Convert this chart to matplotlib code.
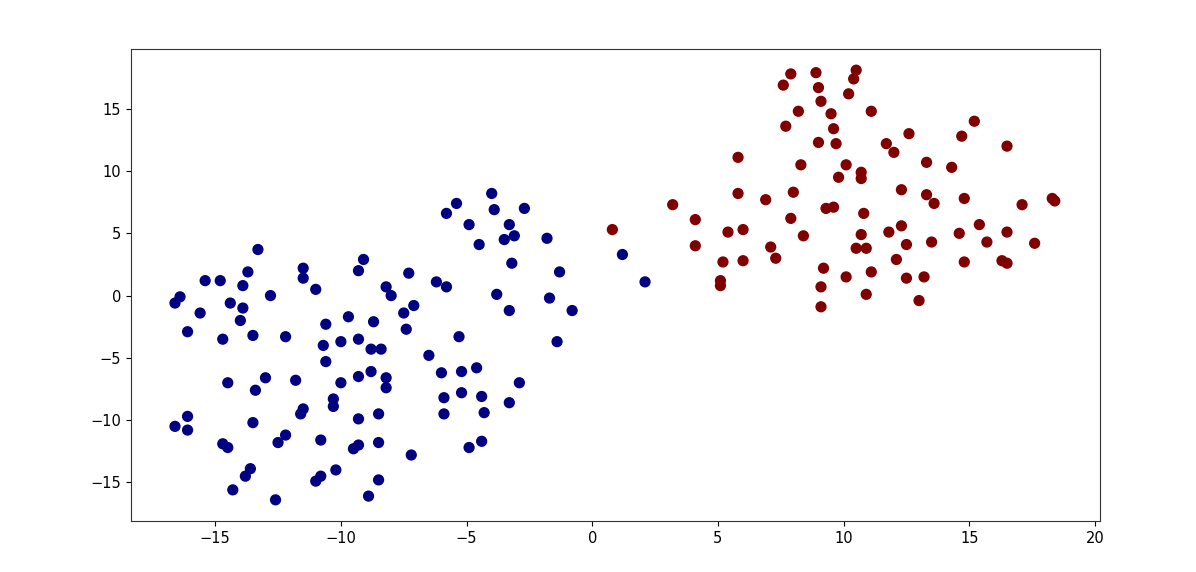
import numpy as np
import matplotlib
matplotlib.use('Agg')
import matplotlib.pyplot as plt

# cluster 0 (azul)
xs_azul = [-16.6, -16.4, -16.1, -15.6, -15.4, -14.8, -14.4, -14.7, -14.0, -13.9,
           -13.9, -13.7, -13.3, -13.5, -12.8, -11.5, -11.5, -11.0, -12.2, -10.6,
           -10.7, -10.6, -10.0, -9.7, -9.3, -9.1, -9.3, -8.7, -8.8, -8.4,
           -8.2, -8.0, -7.5, -7.3, -7.1, -7.4, -6.5, -6.2, -6.0, -5.8,
           -5.8, -5.4, -5.3, -5.2, -5.9, -5.9, -5.2, -4.9, -4.6, -4.5,
           -4.4, -4.3, -4.4, -4.9, -4.0, -3.9, -3.8, -3.5, -3.3, -3.1,
           -3.2, -3.3, -3.3, -2.9, -2.7, -1.8, -1.7, -1.3, -1.4, -0.8,
           1.2, 2.1,
           -16.6, -16.1, -16.1, -14.7, -14.5, -14.5, -14.3, -13.8, -13.6, -13.4,
           -13.5, -13.0, -12.6, -12.5, -12.2, -11.8, -11.6, -11.5, -11.0, -10.8,
           -10.8, -10.3, -10.3, -10.2, -10.0, -9.5, -9.3, -9.3, -9.3, -8.9,
           -8.8, -8.5, -8.5, -8.5, -8.2, -8.2, -7.2]
ys_azul = [-0.6, -0.1, -2.9, -1.4, 1.2, 1.2, -0.6, -3.5, -2.0, -1.0,
           0.8, 1.9, 3.7, -3.2, 0.0, 2.2, 1.4, 0.5, -3.3, -2.3,
           -4.0, -5.3, -3.7, -1.7, 2.0, 2.9, -3.5, -2.1, -4.3, -4.3,
           0.7, 0.0, -1.4, 1.8, -0.8, -2.7, -4.8, 1.1, -6.2, 0.7,
           6.6, 7.4, -3.3, -6.1, -8.2, -9.5, -7.8, 5.7, -5.8, 4.1,
           -8.1, -9.4, -11.7, -12.2, 8.2, 6.9, 0.1, 4.5, 5.7, 4.8,
           2.6, -1.2, -8.6, -7.0, 7.0, 4.6, -0.2, 1.9, -3.7, -1.2,
           3.3, 1.1,
           -10.5, -9.7, -10.8, -11.9, -12.2, -7.0, -15.6, -14.5, -13.9, -7.6,
           -10.2, -6.6, -16.4, -11.8, -11.2, -6.8, -9.5, -9.1, -14.9, -14.5,
           -11.6, -8.3, -8.9, -14.0, -7.0, -12.3, -12.0, -9.9, -6.5, -16.1,
           -6.1, -9.5, -11.8, -14.8, -6.6, -7.4, -12.8]

# cluster 1 (vermelho)
xs_verm = [0.8, 3.2, 4.1, 4.1, 5.1, 5.1, 5.2, 5.4, 5.8, 5.8,
           6.0, 6.0, 6.9, 7.1, 7.3, 7.6, 7.9, 7.7, 8.0, 7.9,
           8.2, 8.3, 8.4, 8.9, 9.0, 9.1, 9.0, 9.1, 9.1, 9.2,
           9.3, 9.5, 9.6, 9.6, 9.7, 9.8, 10.1, 10.2, 10.4, 10.5,
           10.1, 10.5, 10.7, 10.7, 10.7, 10.8, 10.9, 10.9, 11.1, 11.1,
           11.7, 12.0, 11.8, 12.3, 12.3, 12.1, 12.5, 12.5, 12.6, 13.0,
           13.2, 13.3, 13.3, 13.5, 13.6, 14.3, 14.6, 14.7, 14.8, 14.8,
           15.2, 15.4, 15.7, 16.3, 16.5, 16.5, 16.5, 17.1, 17.6, 18.3,
           18.4]
ys_verm = [5.3, 7.3, 6.1, 4.0, 1.2, 0.8, 2.7, 5.1, 11.1, 8.2,
           5.3, 2.8, 7.7, 3.9, 3.0, 16.9, 17.8, 13.6, 8.3, 6.2,
           14.8, 10.5, 4.8, 17.9, 16.7, 15.6, 12.3, 0.7, -0.9, 2.2,
           7.0, 14.6, 7.1, 13.4, 12.2, 9.5, 10.5, 16.2, 17.4, 18.1,
           1.5, 3.8, 9.9, 9.4, 4.9, 6.6, 3.8, 0.1, 14.8, 1.9,
           12.2, 11.5, 5.1, 8.5, 5.6, 2.9, 1.4, 4.1, 13.0, -0.4,
           1.5, 8.1, 10.7, 4.3, 7.4, 10.3, 5.0, 12.8, 2.7, 7.8,
           14.0, 5.7, 4.3, 2.8, 2.6, 12.0, 5.1, 7.3, 4.2, 7.8,
           7.6]

x = np.array(xs_azul + xs_verm)
y = np.array(ys_azul + ys_verm)
rotulos = np.array([0] * len(xs_azul) + [1] * len(xs_verm))

fig = plt.figure(figsize=(11.96, 5.72), dpi=100)
ax = fig.add_axes([131 / 1196, 1 - 521 / 572, (1100 - 131) / 1196, (521 - 49) / 572])
ax.scatter(x, y, c=rotulos, cmap='jet', s=50)
ax.set_xlim(-18.35, 20.2)
ax.set_ylim(-18.1, 19.8)
ax.set_xticks([-15, -10, -5, 0, 5, 10, 15, 20])
ax.set_yticks([-15, -10, -5, 0, 5, 10, 15])
ax.tick_params(labelsize=10.5)
for s in ax.spines.values():
	s.set_color('#333333')

fig.savefig('out.png', dpi=100)
